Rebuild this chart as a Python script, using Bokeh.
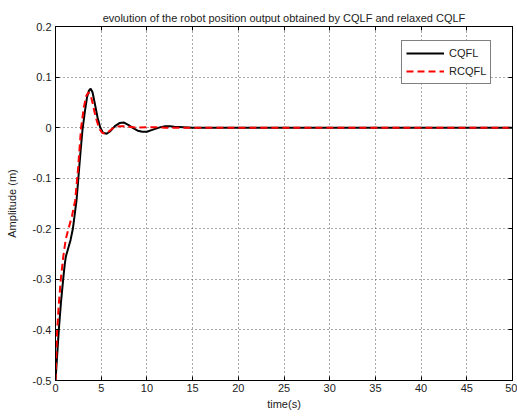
from bokeh.plotting import figure
from bokeh.models import FixedTicker, LinearAxis, Legend, LegendItem, Range1d
from bokeh.embed import file_html
from bokeh.resources import INLINE

title_text = "evolution of the robot position output obtained by CQLF and relaxed CQLF"
x_label = "time(s)"
y_label = "Amplitude (m)"

x_ticks = [0, 5, 10, 15, 20, 25, 30, 35, 40, 45, 50]
y_ticks = [0.2, 0.1, 0.0, -0.1, -0.2, -0.3, -0.4, -0.5]
y_tick_labels = ["0.2", "0.1", "0", "-0.1", "-0.2", "-0.3", "-0.4", "-0.5"]

series_names = ["CQFL", "RCQFL"]

t_cqfl = [0, 0.2, 0.36, 0.6, 0.84, 1.0, 1.13, 1.4, 1.65, 1.9, 2.1, 2.3, 2.5, 2.75, 2.95, 3.2, 3.45,
          3.65, 3.85, 4.05, 4.3, 4.6, 4.9, 5.2, 5.6, 6.0, 6.5, 7.0, 7.5, 8.0, 8.5, 9.0, 9.5, 10.0,
          10.5, 11.0, 11.5, 12.0, 12.5, 13.0, 14.0, 15.0, 17.0, 20.0, 25.0, 30.0, 35.0, 40.0,
          45.0, 50.0]
y_cqfl = [-0.5, -0.445, -0.4, -0.345, -0.3, -0.272, -0.255, -0.238, -0.222, -0.2, -0.172,
          -0.144, -0.1, -0.045, -0.005, 0.03, 0.06, 0.073, 0.077, 0.07, 0.048, 0.02, 0.0, -0.01,
          -0.012, -0.007, 0.003, 0.009, 0.01, 0.005, -0.001, -0.006, -0.008, -0.008, -0.005,
          -0.002, 0.001, 0.003, 0.003, 0.002, 0.001, 0.0, 0.0, 0.0, 0.0, 0.0, 0.0, 0.0, 0.0, 0.0]

t_rcqfl = [0, 0.18, 0.38, 0.58, 0.85, 1.13, 1.42, 1.8, 2.15, 2.45, 2.8, 3.1, 3.35, 3.6,
           3.85, 4.1, 4.4, 4.8, 5.1, 5.45, 5.8, 6.2, 6.7, 7.2, 8.0, 9.0, 10.0, 11.0, 12.0,
           13.0, 15.0, 20.0, 25.0, 30.0, 35.0, 40.0, 45.0, 50.0]
y_rcqfl = [-0.5, -0.4, -0.345, -0.3, -0.255, -0.22, -0.2, -0.175, -0.144, -0.085,
           0.0, 0.04, 0.062, 0.07, 0.064, 0.045, 0.02, -0.002, -0.01, -0.012, -0.008, -0.002,
           0.002, 0.003, 0.002, 0.0, 0.001, 0.001, 0.0, 0.0, 0.0, 0.0, 0.0, 0.0, 0.0, 0.0, 0.0, 0.0]

FONT = "Liberation Sans"

p = figure(width=517, height=420, output_backend="svg", toolbar_location=None,
           x_range=Range1d(x_ticks[0], x_ticks[-1]), y_range=Range1d(y_ticks[-1], y_ticks[0]),
           min_border_left=55, min_border_right=5, min_border_top=26, min_border_bottom=40)

p.title.text = title_text
p.title.align = "center"
p.title.vertical_align = "top"
p.title.text_font = FONT
p.title.text_font_size = "11px"
p.title.text_font_style = "normal"
p.title.text_color = "#222222"
p.title.standoff = 2
p.title.offset = 0

p.outline_line_color = "black"
p.outline_line_width = 1
p.outline_line_alpha = 1
p.background_fill_color = "white"
p.border_fill_color = "white"

for ax in [p.xaxis[0], p.yaxis[0]]:
    ax.major_tick_in = 4
    ax.major_tick_out = 0
    ax.minor_tick_in = 0
    ax.minor_tick_out = 0
    ax.axis_line_color = "black"
    ax.major_tick_line_color = "black"
    ax.major_label_text_font = FONT
    ax.major_label_text_font_size = "11px"
    ax.major_label_text_color = "#222222"
    ax.axis_label_text_font = FONT
    ax.axis_label_text_font_size = "11px"
    ax.axis_label_text_font_style = "normal"
    ax.axis_label_text_color = "#222222"

p.xaxis[0].ticker = FixedTicker(ticks=x_ticks)
p.yaxis[0].ticker = FixedTicker(ticks=y_ticks)
p.yaxis[0].major_label_overrides = {t: s for t, s in zip(y_ticks, y_tick_labels)}
p.xaxis[0].axis_label = x_label
p.yaxis[0].axis_label = y_label
p.xaxis[0].major_label_standoff = 3
p.yaxis[0].major_label_standoff = 4
p.xaxis[0].axis_label_standoff = 3
p.yaxis[0].axis_label_standoff = 12

top_ax = LinearAxis(ticker=FixedTicker(ticks=x_ticks))
right_ax = LinearAxis(ticker=FixedTicker(ticks=y_ticks))
for ax in [top_ax, right_ax]:
    ax.major_tick_in = 4
    ax.major_tick_out = 0
    ax.minor_tick_in = 0
    ax.minor_tick_out = 0
    ax.major_label_text_font_size = "1px"
    ax.major_label_text_color = None
    ax.major_label_standoff = 0
    ax.axis_line_color = "black"
    ax.major_tick_line_color = "black"
p.add_layout(top_ax, "above")
p.add_layout(right_ax, "right")

for g in [p.xgrid[0], p.ygrid[0]]:
    g.grid_line_color = "#555555"
    g.grid_line_dash = "1 3"
    g.grid_line_width = 1
p.xgrid[0].ticker = FixedTicker(ticks=x_ticks)
p.ygrid[0].ticker = FixedTicker(ticks=y_ticks)

r1 = p.line(t_cqfl, y_cqfl, line_color="black", line_width=2)
r2 = p.line(t_rcqfl, y_rcqfl, line_color="#ff0000", line_width=2, line_dash="7 4")

legend = Legend(items=[LegendItem(label=series_names[0], renderers=[r1]),
                       LegendItem(label=series_names[1], renderers=[r2])],
                location=(346, 296))
legend.label_text_font = FONT
legend.label_text_font_size = "11px"
legend.label_text_color = "#222222"
legend.glyph_width = 38
legend.glyph_height = 16
legend.label_height = 16
legend.spacing = 2
legend.padding = 4
legend.margin = 0
legend.label_standoff = 5
legend.border_line_color = "black"
legend.border_line_width = 1
legend.background_fill_color = "white"
legend.background_fill_alpha = 1
p.add_layout(legend, "center")

open("out.html", "w").write(file_html(p, INLINE))
